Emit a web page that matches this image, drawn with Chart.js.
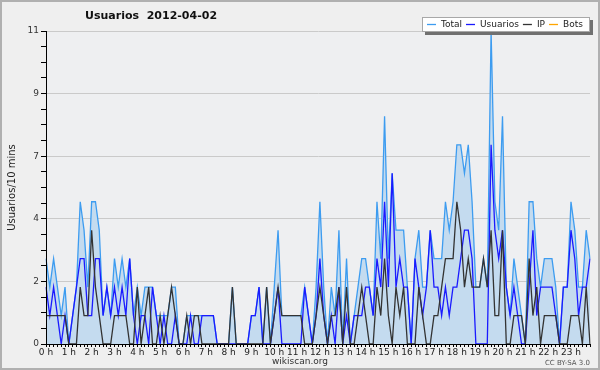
<!DOCTYPE html>
<html>
<head>
<meta charset="utf-8">
<title>Usuarios 2012-04-02</title>
<script src="https://cdn.jsdelivr.net/npm/chart.js@4/dist/chart.umd.min.js"></script>
<style>
  html, body { margin: 0; padding: 0; background: #efefef; }
  #wrap { width: 600px; height: 370px; }
</style>
</head>
<body>
<div id="wrap"><canvas id="chart" width="600" height="370"></canvas></div>
<script>
// Usuarios por tramo de 10 minutos, 2012-04-02 (144 tramos)
const chartTitle = 'Usuarios  2012-04-02';
const yTitle = 'Usuarios/10 mins';
const seriesNames = ['Total', 'Usuarios', 'IP', 'Bots'];
const seriesColors = ['#3d9cf0', '#1a1aff', '#333333', '#ffa500'];

const hourLabels = ['0 h', '1 h', '2 h', '3 h', '4 h', '5 h', '6 h', '7 h', '8 h', '9 h', '10 h', '11 h',
  '12 h', '13 h', '14 h', '15 h', '16 h', '17 h', '18 h', '19 h', '20 h', '21 h', '22 h', '23 h'];
const yTickLabels = ['0', '2', '4', '7', '9', '11'];

const total = [
  3, 2, 3, 2, 1, 2, 0, 1, 2, 5, 4, 2,
  5, 5, 4, 1, 2, 1, 3, 2, 3, 2, 3, 1,
  2, 1, 2, 2, 2, 1, 1, 1, 1, 2, 2, 0,
  0, 1, 1, 1, 1, 1, 1, 1, 1, 0, 0, 0,
  0, 2, 0, 0, 0, 0, 1, 1, 2, 0, 2, 0,
  2, 4, 1, 1, 1, 1, 1, 1, 2, 1, 0, 2,
  5, 2, 0, 2, 1, 4, 0, 3, 0, 1, 2, 3,
  3, 2, 1, 5, 3, 8, 3, 6, 4, 4, 4, 2,
  0, 3, 4, 2, 2, 4, 3, 3, 3, 5, 4, 5,
  7, 7, 6, 7, 5, 2, 2, 3, 2, 11, 5, 4,
  8, 2, 1, 3, 2, 1, 0, 5, 5, 3, 2, 3,
  3, 3, 2, 0, 2, 2, 5, 4, 2, 2, 4, 3
];
const usuarios = [
  2, 1, 2, 1, 0, 1, 0, 1, 2, 3, 3, 1,
  1, 3, 3, 1, 2, 1, 2, 1, 2, 1, 3, 1,
  0, 1, 1, 0, 2, 1, 0, 1, 0, 0, 1, 0,
  0, 0, 1, 0, 0, 1, 1, 1, 1, 0, 0, 0,
  0, 0, 0, 0, 0, 0, 1, 1, 2, 0, 0, 0,
  1, 2, 0, 0, 0, 0, 0, 0, 2, 1, 0, 1,
  3, 1, 0, 1, 0, 2, 0, 1, 0, 1, 1, 1,
  2, 2, 1, 3, 2, 5, 2, 6, 2, 3, 2, 2,
  0, 3, 2, 1, 2, 4, 2, 2, 1, 2, 1, 2,
  2, 3, 4, 4, 3, 0, 0, 0, 0, 7, 4, 3,
  4, 2, 1, 2, 1, 0, 0, 2, 4, 1, 2, 2,
  2, 2, 1, 0, 2, 2, 4, 3, 1, 2, 2, 3
];
const ip = [
  1, 1, 1, 1, 1, 1, 0, 0, 0, 2, 1, 1,
  4, 2, 1, 0, 0, 0, 1, 1, 1, 1, 0, 0,
  2, 0, 1, 2, 0, 0, 1, 0, 1, 2, 1, 0,
  0, 1, 0, 1, 1, 0, 0, 0, 0, 0, 0, 0,
  0, 2, 0, 0, 0, 0, 0, 0, 0, 0, 2, 0,
  1, 2, 1, 1, 1, 1, 1, 1, 0, 0, 0, 1,
  2, 1, 0, 1, 1, 2, 0, 2, 0, 0, 1, 2,
  1, 0, 0, 2, 1, 3, 1, 0, 2, 1, 2, 0,
  0, 0, 2, 1, 0, 0, 1, 1, 2, 3, 3, 3,
  5, 4, 2, 3, 2, 2, 2, 3, 2, 4, 1, 1,
  4, 0, 0, 1, 1, 1, 0, 3, 1, 2, 0, 1,
  1, 1, 1, 0, 0, 0, 1, 1, 1, 0, 2, 0
];
const bots = [
  0, 0, 0, 0, 0, 0, 0, 0, 0, 0, 0, 0,
  0, 0, 0, 0, 0, 0, 0, 0, 0, 0, 0, 0,
  0, 0, 0, 0, 0, 0, 0, 0, 0, 0, 0, 0,
  0, 0, 0, 0, 0, 0, 0, 0, 0, 0, 0, 0,
  0, 0, 0, 0, 0, 0, 0, 0, 0, 0, 0, 0,
  0, 0, 0, 0, 0, 0, 0, 0, 0, 0, 0, 0,
  0, 0, 0, 0, 0, 0, 0, 0, 0, 0, 0, 0,
  0, 0, 0, 0, 0, 0, 0, 0, 0, 0, 0, 0,
  0, 0, 0, 0, 0, 0, 0, 0, 0, 0, 0, 0,
  0, 0, 0, 0, 0, 0, 0, 0, 0, 0, 0, 0,
  0, 0, 0, 0, 0, 0, 0, 0, 0, 0, 0, 0,
  0, 0, 0, 0, 0, 0, 0, 0, 0, 0, 0, 0
];

// one slot label per 10 minutes
const slots = [];
for (let h = 0; h < 24; h++) {
  for (let m = 0; m < 60; m += 10) {
    slots.push(String(h).padStart(2, '0') + ':' + String(m).padStart(2, '0'));
  }
}

Chart.defaults.font.family = '"DejaVu Sans", Verdana, sans-serif';

// background, frame, title, legend box and footer texts
const decor = {
  id: 'decor',
  beforeDraw(chart) {
    const { ctx, chartArea: a } = chart;
    ctx.save();
    ctx.fillStyle = '#efefef';
    ctx.fillRect(0, 0, chart.width, chart.height);
    ctx.fillStyle = '#eeeff1';
    ctx.fillRect(a.left, a.top, a.right - a.left, a.bottom - a.top);
    ctx.restore();
  },
  afterDraw(chart) {
    const { ctx, chartArea: a } = chart;
    ctx.save();

    // outer frame
    ctx.strokeStyle = '#b0b0b0';
    ctx.lineWidth = 2;
    ctx.strokeRect(1, 1, chart.width - 2, chart.height - 2);

    // title
    ctx.fillStyle = '#111';
    ctx.font = 'bold 11px "DejaVu Sans"';
    ctx.textAlign = 'left';
    ctx.textBaseline = 'middle';
    ctx.fillText(chartTitle, 85, 16);

    // y title
    ctx.font = '10px "DejaVu Sans"';
    ctx.fillStyle = '#222';
    ctx.save();
    ctx.translate(12, (a.top + a.bottom) / 2);
    ctx.rotate(-Math.PI / 2);
    ctx.textAlign = 'center';
    ctx.fillText(yTitle, 0, 0);
    ctx.restore();

    // footer
    ctx.font = '9px "DejaVu Sans"';
    ctx.fillStyle = '#333';
    ctx.textAlign = 'center';
    ctx.fillText('wikiscan.org', 300, 362);
    ctx.font = '7px "DejaVu Sans"';
    ctx.fillStyle = '#555';
    ctx.textAlign = 'right';
    ctx.fillText('CC BY-SA 3.0', 590, 363);

    // legend
    const bx = 422, by = 17, bw = 168, bh = 15;
    ctx.fillStyle = '#707070';
    ctx.fillRect(bx + 3, by + 3, bw, bh);
    ctx.fillStyle = '#ffffff';
    ctx.fillRect(bx, by, bw, bh);
    ctx.strokeStyle = '#a8a8a8';
    ctx.lineWidth = 1;
    ctx.strokeRect(bx + 0.5, by + 0.5, bw - 1, bh - 1);
    ctx.font = '9px "DejaVu Sans"';
    ctx.textAlign = 'left';
    let x = bx + 5;
    const ly = by + bh / 2;
    chart.data.datasets.forEach(ds => {
      ctx.strokeStyle = ds.borderColor;
      ctx.lineWidth = 1.3;
      ctx.beginPath();
      ctx.moveTo(x, ly);
      ctx.lineTo(x + 9, ly);
      ctx.stroke();
      ctx.fillStyle = '#222';
      ctx.fillText(ds.label, x + 14, ly + 0.5);
      x += 14 + ctx.measureText(ds.label).width + 4;
    });

    ctx.restore();
  }
};

const yTicks = [];
for (let k = 0; k <= 20; k++) yTicks.push(k * 0.55);

const ctx = document.getElementById('chart').getContext('2d');
const chart = new Chart(ctx, {
  type: 'line',
  data: {
    labels: slots,
    datasets: [
      {
        label: seriesNames[0],
        data: total,
        borderColor: seriesColors[0],
        backgroundColor: '#c4dbef',
        fill: 'origin',
        order: 2
      },
      {
        label: seriesNames[1],
        data: usuarios,
        borderColor: seriesColors[1],
        fill: false,
        order: 1
      },
      {
        label: seriesNames[2],
        data: ip,
        borderColor: seriesColors[2],
        fill: false,
        order: 0
      },
      {
        label: seriesNames[3],
        data: bots,
        borderColor: seriesColors[3],
        fill: false,
        order: 3
      }
    ]
  },
  options: {
    responsive: false,
    animation: false,
    layout: { padding: { top: 31, right: 10, left: 0, bottom: 0 } },
    elements: {
      line: { borderWidth: 1.3, tension: 0 },
      point: { radius: 0 }
    },
    plugins: {
      legend: { display: false },
      title: { display: false },
      tooltip: { enabled: false }
    },
    scales: {
      x: {
        type: 'category',
        offset: false,
        grid: { drawOnChartArea: false, drawTicks: true, tickLength: 3, tickColor: '#000', offset: false },
        border: { color: '#000', width: 1, z: 1 },
        ticks: {
          autoSkip: false,
          maxRotation: 0,
          minRotation: 0,
          padding: 0,
          color: '#222',
          font: { size: 9 },
          callback: (v, i) => (i % 6 === 0 ? hourLabels[i / 6] : '')
        },
        afterFit: s => { s.height = 26; }
      },
      y: {
        min: 0,
        max: 11,
        afterBuildTicks: s => { s.ticks = yTicks.map(v => ({ value: v })); },
        ticks: {
          autoSkip: false,
          padding: 2,
          color: '#333',
          font: { size: 9 },
          callback: (v, i) => (i % 4 === 0 ? yTickLabels[i / 4] : '')
        },
        grid: {
          color: c => (c.index % 4 === 0 && c.index > 0 ? '#cacaca' : 'rgba(0,0,0,0)'),
          tickColor: '#000',
          tickLength: 5,
          lineWidth: 1
        },
        border: { color: '#000', width: 1, z: 1 },
        afterFit: s => { s.width = 46; }
      }
    }
  },
  plugins: [decor]
});
</script>
</body>
</html>
